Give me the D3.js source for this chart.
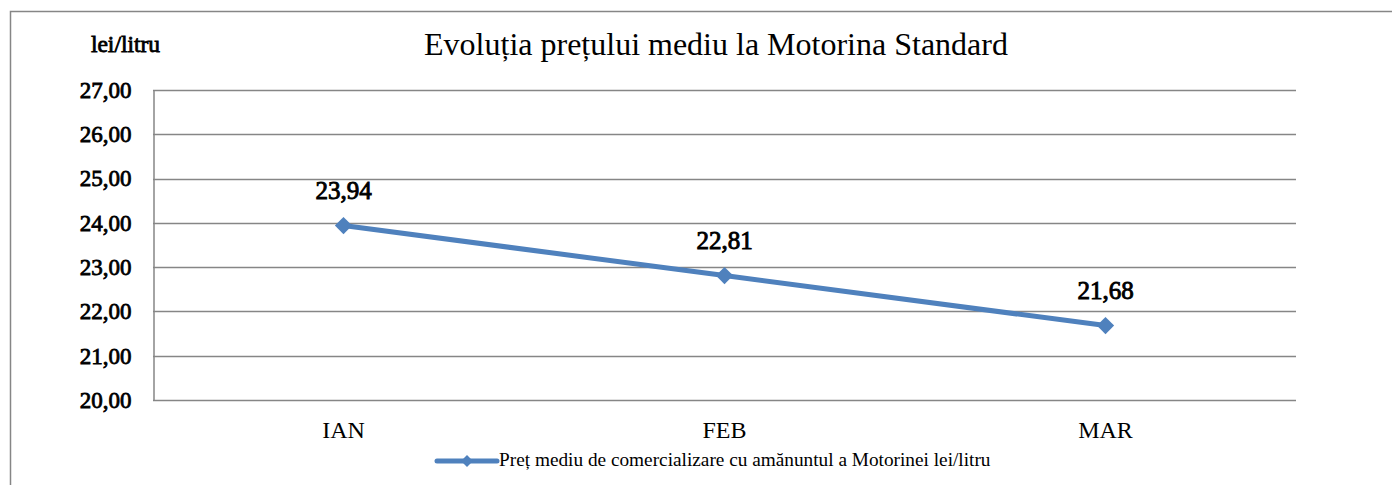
<!DOCTYPE html>
<html>
<head>
<meta charset="utf-8">
<script src="https://cdn.jsdelivr.net/npm/d3@7"></script>
<style>
  body { margin: 0; background: #fff; font-family: "Liberation Serif", "Times New Roman", serif; }
</style>
</head>
<body>
<div id="container"><svg></svg></div>
<script>
let months = ['IAN', 'FEB', 'MAR'];
let prices = [23.94, 22.81, 21.68];
let y_ticks = [20, 21, 22, 23, 24, 25, 26, 27];
let title_text = 'Evoluția prețului mediu la Motorina Standard';
let y_unit = 'lei/litru';
let series_name = 'Preț mediu de comercializare cu amănuntul a Motorinei lei/litru';

let fontFamily = '"Liberation Serif", "Times New Roman", serif';
let lineColor = '#4f81bd';
let gridColor = '#868686';

function fmt(v) {
    return v.toFixed(2).replace('.', ',');
}

// bold serif via a thin stroke, the bold face falls back to sans here
function boldish(sel, w) {
    sel.attr('font-weight', 'normal')
        .attr('stroke', '#000')
        .attr('stroke-width', w)
        .attr('paint-order', 'fill');
}

function draw_main(width, height) {
    let padding = {'left': 153, 'right': width - 1296, 'top': 90, 'bottom': height - 400};
    let svg = d3.select('#container').select('svg')
        .attr('width', width)
        .attr('height', height);

    // outer frame (only top and left edges visible)
    svg.append('path')
        .attr('d', `M10.5,${height} V11.5 H${width}`)
        .attr('fill', 'none')
        .attr('stroke', gridColor)
        .attr('stroke-width', 1.5);

    // title
    svg.append('text')
        .attr('x', 716)
        .attr('y', 55)
        .attr('text-anchor', 'middle')
        .attr('font-family', fontFamily)
        .attr('font-size', '32px')
        .text(title_text);

    svg.append('text')
        .attr('x', 125.5)
        .attr('y', 52)
        .attr('text-anchor', 'middle')
        .attr('font-family', fontFamily)
        .attr('font-size', '23.5px')
        .text(y_unit)
        .call(boldish, 0.8);

    let x = d3.scaleBand()
        .domain(months)
        .range([padding.left, width - padding.right]);
    let y = d3.scaleLinear()
        .domain([20, 27])
        .range([height - padding.bottom, padding.top]);

    // gridlines
    svg.append('g')
        .selectAll('line')
        .data(y_ticks)
        .enter().append('line')
        .attr('x1', padding.left)
        .attr('x2', width - padding.right)
        .attr('y1', d => Math.round(y(d)) + 0.5)
        .attr('y2', d => Math.round(y(d)) + 0.5)
        .attr('stroke', gridColor)
        .attr('stroke-width', 1.5);

    // y axis
    let axis_y = d3.axisLeft(y)
        .tickValues(y_ticks)
        .tickSize(0)
        .tickPadding(22)
        .tickFormat(fmt);
    let gy = svg.append('g')
        .attr('transform', `translate(${padding.left + 0.5},0)`)
        .call(axis_y)
        .attr('font-family', fontFamily)
        .attr('font-size', '23px');
    gy.select('.domain').attr('stroke', gridColor).attr('stroke-width', 1.5);
    gy.selectAll('text').attr('fill', '#000').call(boldish, 0.8);

    // x axis labels
    let axis_x = d3.axisBottom(x).tickSize(0).tickPadding(21);
    let gx = svg.append('g')
        .attr('transform', `translate(0,${height - padding.bottom})`)
        .call(axis_x)
        .attr('font-family', fontFamily)
        .attr('font-size', '24px');
    gx.select('.domain').remove();
    gx.selectAll('text').attr('fill', '#000');

    // line
    let line = d3.line()
        .x((d, i) => x(months[i]) + x.bandwidth() / 2)
        .y(d => y(d));
    svg.append('path')
        .datum(prices)
        .attr('d', line)
        .attr('fill', 'none')
        .attr('stroke', lineColor)
        .attr('stroke-width', 5);

    // markers
    let diamond = d3.symbol().type(d3.symbolDiamond2).size(190);
    svg.append('g')
        .selectAll('path')
        .data(prices)
        .enter().append('path')
        .attr('d', diamond)
        .attr('transform', (d, i) => `translate(${x(months[i]) + x.bandwidth() / 2},${y(d)})`)
        .attr('fill', lineColor);

    // value labels
    svg.append('g')
        .selectAll('text')
        .data(prices)
        .enter().append('text')
        .attr('x', (d, i) => x(months[i]) + x.bandwidth() / 2)
        .attr('y', d => y(d) - 27)
        .attr('text-anchor', 'middle')
        .attr('font-family', fontFamily)
        .attr('font-size', '25px')
        .text(fmt)
        .call(boldish, 0.9);

    // legend
    let lg = svg.append('g').attr('transform', 'translate(437,461)');
    lg.append('line')
        .attr('x1', 0).attr('x2', 60)
        .attr('stroke', lineColor)
        .attr('stroke-width', 5)
        .attr('stroke-linecap', 'round');
    lg.append('path')
        .attr('d', d3.symbol().type(d3.symbolDiamond2).size(90))
        .attr('transform', 'translate(30,0)')
        .attr('fill', lineColor);
    lg.append('text')
        .attr('x', 62)
        .attr('y', 5)
        .attr('font-family', fontFamily)
        .attr('font-size', '19.3px')
        .text(series_name);
}

draw_main(1392, 485);
</script>
</body>
</html>
